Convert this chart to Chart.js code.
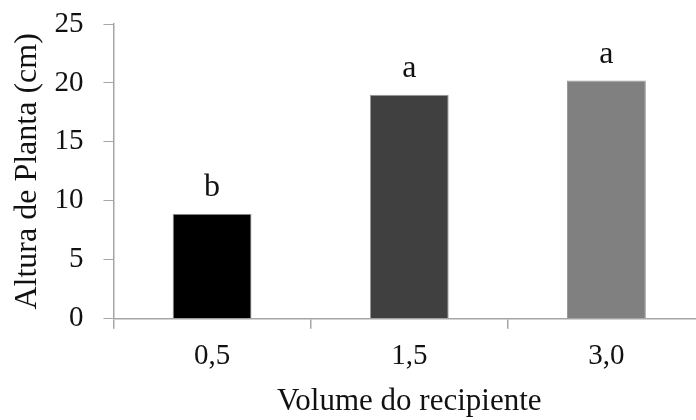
<!DOCTYPE html>
<html>
<head>
<meta charset="utf-8">
<script src="https://cdn.jsdelivr.net/npm/chart.js@4"></script>
<style>
    body { margin: 0; background: #fff; overflow: hidden; }
    #wrap { width: 705px; height: 420px; position: relative; }
</style>
</head>
<body>
<div id="wrap"><canvas id="alturaChart"></canvas></div>
<script>
// ===== DATA =====
const categories = ['0,5', '1,5', '3,0'];
const alturaValues = [8.9, 19.0, 20.2];
const letters = ['b', 'a', 'a'];
const barColors = ['#000000', '#404040', '#808080'];
const yTicks = [0, 5, 10, 15, 20, 25];

const serif = '"Liberation Serif", "Times New Roman", serif';
const axisColor = '#a6a6a6';

// ===== LETTERS ABOVE BARS =====
const letterPlugin = {
    id: 'letterPlugin',
    afterDatasetsDraw(chart) {
        const ctx = chart.ctx;
        const meta = chart.getDatasetMeta(0);
        ctx.save();
        ctx.font = '32px ' + serif;
        ctx.fillStyle = '#111';
        ctx.textAlign = 'center';
        ctx.textBaseline = 'alphabetic';
        meta.data.forEach((bar, i) => {
            ctx.fillText(letters[i], bar.x, bar.y - 18);
        });
        ctx.restore();
    }
};

// ===== CHART =====
function initializeChart() {
    const ctx = document.getElementById('alturaChart');

    new Chart(ctx, {
        type: 'bar',
        data: {
            labels: categories,
            datasets: [{
                data: alturaValues,
                backgroundColor: barColors,
                borderColor: '#9a9a9a',
                borderWidth: 1,
                barPercentage: 0.4,
                categoryPercentage: 1.0
            }]
        },
        plugins: [letterPlugin],
        options: {
            responsive: true,
            maintainAspectRatio: false,
            animation: false,
            layout: { padding: { top: 24, right: 0, left: 0, bottom: 0 } },
            plugins: {
                legend: { display: false },
                tooltip: { enabled: false }
            },
            scales: {
                y: {
                    min: 0,
                    max: 25,
                    afterBuildTicks: (scale) => {
                        scale.ticks = yTicks.map(v => ({ value: v }));
                    },
                    afterFit: (scale) => {
                        scale.width = 113.5;
                        // keep the top tick label from pushing the plot down
                        scale.paddingTop = 0;
                        scale.paddingBottom = 0;
                    },
                    ticks: {
                        color: '#111',
                        padding: 20,
                        font: { family: serif, size: 29 }
                    },
                    grid: {
                        drawOnChartArea: false,
                        color: axisColor,
                        tickLength: 10,
                        lineWidth: 1
                    },
                    border: { color: axisColor, width: 1.5 },
                    title: {
                        display: true,
                        text: 'Altura de Planta (cm)',
                        color: '#111',
                        font: { family: serif, size: 32 },
                        padding: { top: 8, bottom: 0 }
                    }
                },
                x: {
                    afterFit: (scale) => { scale.height = 101.3; },
                    ticks: {
                        color: '#111',
                        padding: 10,
                        font: { family: serif, size: 29 }
                    },
                    grid: {
                        drawOnChartArea: false,
                        offset: true,
                        color: axisColor,
                        tickLength: 10,
                        lineWidth: 1.5
                    },
                    border: { color: axisColor, width: 1.5 },
                    title: {
                        display: true,
                        text: 'Volume do recipiente',
                        color: '#111',
                        font: { family: serif, size: 31 },
                        padding: { top: 0, bottom: 0 }
                    }
                }
            }
        }
    });
}

initializeChart();
</script>
</body>
</html>
